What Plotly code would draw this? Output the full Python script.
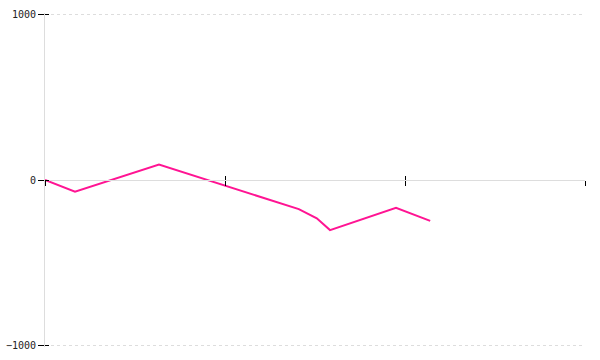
import plotly.graph_objects as go

x_vals = [0, 5, 19, 42.3, 45.3, 47.5, 58.5, 64.2]
y_vals = [0, -71, 93, -176, -232, -303, -168, -247]
x_ticks = [0, 30, 60, 90]
y_ticks = [-1000, 0, 1000]

fig = go.Figure()
fig.add_trace(go.Scatter(x=x_vals, y=y_vals, mode="lines",
                         line=dict(color="#ff1493", width=2),
                         xaxis="x", yaxis="y", hoverinfo="skip"))
# helper trace so the overlay axes (tick crossing part) are drawn
fig.add_trace(go.Scatter(x=x_vals, y=y_vals, mode="lines",
                         line=dict(color="rgba(0,0,0,0)", width=0),
                         xaxis="x2", yaxis="y2", hoverinfo="skip"))

font = dict(family="DejaVu Sans Mono", size=10, color="#222")
yr = [-1010, 1010]

fig.update_layout(
    width=600, height=360,
    margin=dict(l=45, r=15, t=13.35, b=13.35, autoexpand=False),
    paper_bgcolor="white", plot_bgcolor="white",
    showlegend=False,
    font=font,
    xaxis=dict(range=[0, 90], tickvals=x_ticks, showticklabels=False,
               ticks="outside", ticklen=5, tickcolor="#000", tickwidth=1,
               showgrid=False, zeroline=False, automargin=False,
               showline=True, linecolor="#dddddd", linewidth=1,
               anchor="free", position=0.5),
    xaxis2=dict(range=[0, 90], tickvals=x_ticks, showticklabels=False,
                ticks="inside", ticklen=4, tickcolor="#000", tickwidth=1,
                showgrid=False, zeroline=False, showline=False, automargin=False,
                overlaying="x", anchor="free", position=0.5),
    yaxis=dict(range=yr, tickvals=y_ticks,
               ticks="outside", ticklen=6, tickcolor="#000", tickwidth=1,
               showgrid=True, gridcolor="#dddddd", griddash="dot", gridwidth=1,
               zeroline=False, showline=True, linecolor="#dddddd", linewidth=1,
               automargin=False, tickfont=font),
    yaxis2=dict(range=yr, tickvals=y_ticks, showticklabels=False,
                ticks="inside", ticklen=4, tickcolor="#000", tickwidth=1,
                showgrid=False, zeroline=False, showline=False, automargin=False,
                overlaying="y", anchor="x", side="left"),
)

fig.write_html("out.html")
